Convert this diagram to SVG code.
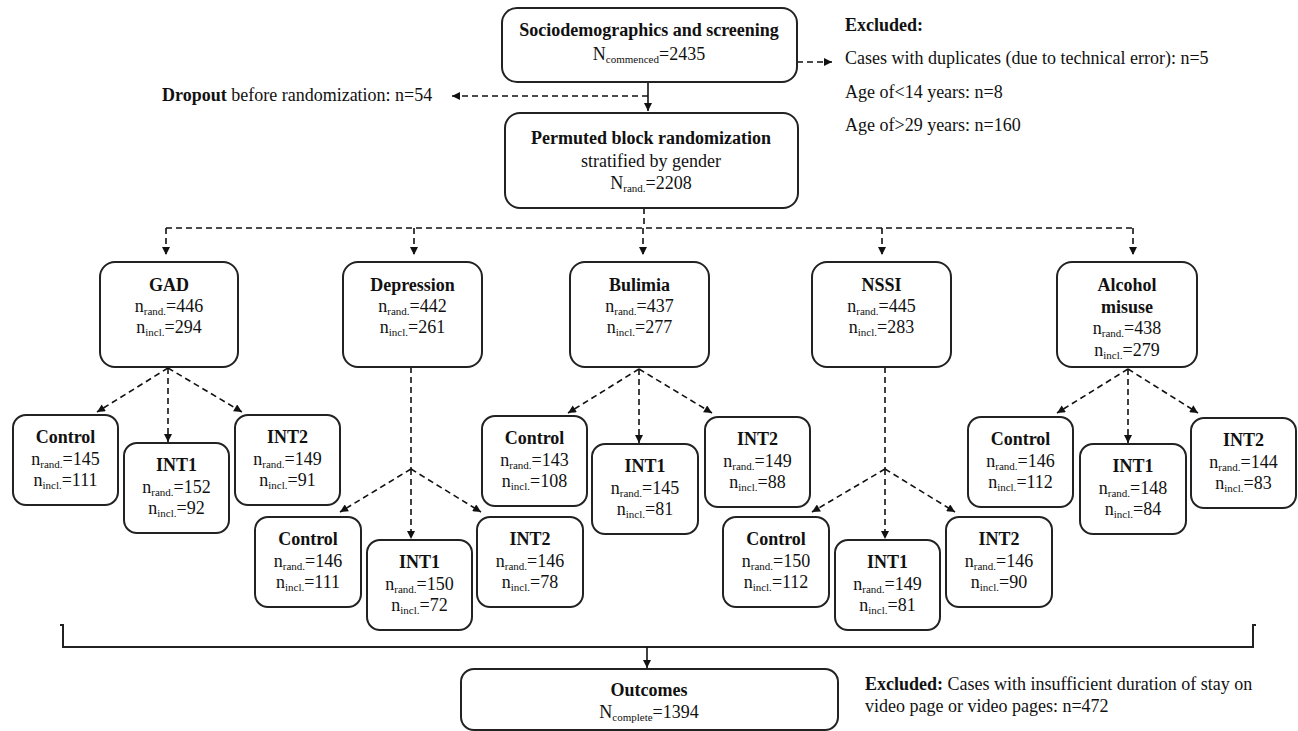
<svg xmlns="http://www.w3.org/2000/svg" width="1298" height="731" viewBox="0 0 1298 731">
<defs>
<style>
.box{fill:#fff;stroke:#222;stroke-width:2}
.t{font-family:"Liberation Serif","Times New Roman",serif;font-size:18px;fill:#111}
.c{text-anchor:middle}
.b{font-weight:bold}
.s{font-size:11px}
.d{fill:none;stroke:#111;stroke-width:1.6;stroke-dasharray:6 4}
.l{fill:none;stroke:#111;stroke-width:1.6}
.br{fill:none;stroke:#222;stroke-width:2}
</style>
<marker id="ah" viewBox="0 0 10 10" refX="10" refY="5" markerWidth="9" markerHeight="8" markerUnits="userSpaceOnUse" orient="auto"><path d="M0,0 L10,5 L0,10 z" fill="#111"/></marker>
</defs>
<rect width="1298" height="731" fill="#fff"/>

<g id="connectors">
<line class="l" x1="648" y1="82" x2="648" y2="111" marker-end="url(#ah)"/>
<line class="d" x1="648" y1="96" x2="452" y2="96" marker-end="url(#ah)"/>
<line class="d" x1="797" y1="62" x2="832" y2="62" marker-end="url(#ah)"/>
<line class="d" x1="644" y1="208" x2="644" y2="228"/>
<line class="d" x1="166" y1="228" x2="1133" y2="228"/>
<line class="d" x1="166" y1="228" x2="166" y2="255" marker-end="url(#ah)"/>
<line class="d" x1="414" y1="228" x2="414" y2="255" marker-end="url(#ah)"/>
<line class="d" x1="643" y1="228" x2="643" y2="255" marker-end="url(#ah)"/>
<line class="d" x1="882" y1="228" x2="882" y2="255" marker-end="url(#ah)"/>
<line class="d" x1="1133" y1="228" x2="1133" y2="255" marker-end="url(#ah)"/>
<!-- GAD -->
<line class="d" x1="168" y1="368" x2="97" y2="412" marker-end="url(#ah)"/>
<line class="d" x1="168" y1="368" x2="168" y2="442" marker-end="url(#ah)"/>
<line class="d" x1="168" y1="368" x2="242" y2="412" marker-end="url(#ah)"/>
<!-- Depression -->
<line class="d" x1="411" y1="367" x2="411" y2="469"/>
<line class="d" x1="411" y1="469" x2="340" y2="512" marker-end="url(#ah)"/>
<line class="d" x1="411" y1="469" x2="411" y2="539" marker-end="url(#ah)"/>
<line class="d" x1="411" y1="469" x2="481" y2="512" marker-end="url(#ah)"/>
<!-- Bulimia -->
<line class="d" x1="639" y1="369" x2="568" y2="413" marker-end="url(#ah)"/>
<line class="d" x1="639" y1="369" x2="639" y2="443" marker-end="url(#ah)"/>
<line class="d" x1="639" y1="369" x2="712" y2="413" marker-end="url(#ah)"/>
<!-- NSSI -->
<line class="d" x1="885" y1="367" x2="885" y2="469"/>
<line class="d" x1="885" y1="469" x2="812" y2="512" marker-end="url(#ah)"/>
<line class="d" x1="885" y1="469" x2="885" y2="539" marker-end="url(#ah)"/>
<line class="d" x1="885" y1="469" x2="955" y2="512" marker-end="url(#ah)"/>
<!-- Alcohol -->
<line class="d" x1="1128" y1="369" x2="1057" y2="413" marker-end="url(#ah)"/>
<line class="d" x1="1128" y1="369" x2="1128" y2="443" marker-end="url(#ah)"/>
<line class="d" x1="1128" y1="369" x2="1198" y2="413" marker-end="url(#ah)"/>
<!-- bracket -->
<path class="br" d="M60,625 L63,625 L63,647 L1253,647 L1253,625 L1256,625"/>
<line class="l" x1="647" y1="647" x2="647" y2="668" marker-end="url(#ah)"/>
</g>

<g id="screening">
<rect class="box" x="502" y="8" width="295" height="74" rx="15"/>
<text class="t c b" x="649" y="36">Sociodemographics and screening</text>
<text class="t c" x="649" y="60">N<tspan class="s" dy="3">commenced</tspan><tspan dy="-3">=2435</tspan></text>
</g>

<g id="excluded-top">
<text class="t b" x="845" y="31">Excluded:</text>
<text class="t" x="845" y="64">Cases with duplicates (due to technical error): n=5</text>
<text class="t" x="845" y="98">Age of&lt;14 years: n=8</text>
<text class="t" x="845" y="131">Age of&gt;29 years: n=160</text>
</g>

<g id="dropout">
<text class="t" x="162" y="101"><tspan class="b">Dropout</tspan> before randomization: n=54</text>
</g>

<g id="randomization">
<rect class="box" x="505" y="113" width="293" height="95" rx="15"/>
<text class="t c b" x="651" y="144">Permuted block randomization</text>
<text class="t c" x="651" y="167">stratified by gender</text>
<text class="t c" x="651" y="189">N<tspan class="s" dy="3">rand.</tspan><tspan dy="-3">=2208</tspan></text>
</g>

<g id="gad">
<rect class="box" x="100" y="262" width="138" height="105" rx="15"/>
<text class="t c b" x="169" y="291">GAD</text>
<text class="t c" x="169" y="312">n<tspan class="s" dy="3">rand.</tspan><tspan dy="-3">=446</tspan></text>
<text class="t c" x="169" y="333">n<tspan class="s" dy="3">incl.</tspan><tspan dy="-3">=294</tspan></text>
</g>
<g id="depression">
<rect class="box" x="343" y="262" width="139" height="105" rx="15"/>
<text class="t c b" x="412.5" y="291">Depression</text>
<text class="t c" x="412.5" y="312">n<tspan class="s" dy="3">rand.</tspan><tspan dy="-3">=442</tspan></text>
<text class="t c" x="412.5" y="333">n<tspan class="s" dy="3">incl.</tspan><tspan dy="-3">=261</tspan></text>
</g>
<g id="bulimia">
<rect class="box" x="570" y="262" width="139" height="105" rx="15"/>
<text class="t c b" x="639.5" y="291">Bulimia</text>
<text class="t c" x="639.5" y="312">n<tspan class="s" dy="3">rand.</tspan><tspan dy="-3">=437</tspan></text>
<text class="t c" x="639.5" y="333">n<tspan class="s" dy="3">incl.</tspan><tspan dy="-3">=277</tspan></text>
</g>
<g id="nssi">
<rect class="box" x="812" y="262" width="139" height="105" rx="15"/>
<text class="t c b" x="881.5" y="291">NSSI</text>
<text class="t c" x="881.5" y="312">n<tspan class="s" dy="3">rand.</tspan><tspan dy="-3">=445</tspan></text>
<text class="t c" x="881.5" y="333">n<tspan class="s" dy="3">incl.</tspan><tspan dy="-3">=283</tspan></text>
</g>
<g id="alcohol">
<rect class="box" x="1057" y="262" width="140" height="105" rx="15"/>
<text class="t c b" x="1127" y="291">Alcohol</text>
<text class="t c b" x="1127" y="313">misuse</text>
<text class="t c" x="1127" y="334">n<tspan class="s" dy="3">rand.</tspan><tspan dy="-3">=438</tspan></text>
<text class="t c" x="1127" y="356">n<tspan class="s" dy="3">incl.</tspan><tspan dy="-3">=279</tspan></text>
</g>

<g id="gad-control">
<rect class="box" x="13" y="415" width="105" height="90" rx="13"/>
<text class="t c b" x="65.5" y="443">Control</text>
<text class="t c" x="65.5" y="465">n<tspan class="s" dy="3">rand.</tspan><tspan dy="-3">=145</tspan></text>
<text class="t c" x="65.5" y="486">n<tspan class="s" dy="3">incl.</tspan><tspan dy="-3">=111</tspan></text>
</g>
<g id="gad-int1">
<rect class="box" x="124" y="443" width="105" height="90" rx="13"/>
<text class="t c b" x="176.5" y="471">INT1</text>
<text class="t c" x="176.5" y="493">n<tspan class="s" dy="3">rand.</tspan><tspan dy="-3">=152</tspan></text>
<text class="t c" x="176.5" y="514">n<tspan class="s" dy="3">incl.</tspan><tspan dy="-3">=92</tspan></text>
</g>
<g id="gad-int2">
<rect class="box" x="235" y="415" width="105" height="90" rx="13"/>
<text class="t c b" x="287.5" y="443">INT2</text>
<text class="t c" x="287.5" y="465">n<tspan class="s" dy="3">rand.</tspan><tspan dy="-3">=149</tspan></text>
<text class="t c" x="287.5" y="486">n<tspan class="s" dy="3">incl.</tspan><tspan dy="-3">=91</tspan></text>
</g>

<g id="dep-control">
<rect class="box" x="255" y="517" width="106" height="90" rx="13"/>
<text class="t c b" x="308" y="545">Control</text>
<text class="t c" x="308" y="567">n<tspan class="s" dy="3">rand.</tspan><tspan dy="-3">=146</tspan></text>
<text class="t c" x="308" y="588">n<tspan class="s" dy="3">incl.</tspan><tspan dy="-3">=111</tspan></text>
</g>
<g id="dep-int1">
<rect class="box" x="367" y="540" width="105" height="90" rx="13"/>
<text class="t c b" x="419.5" y="568">INT1</text>
<text class="t c" x="419.5" y="590">n<tspan class="s" dy="3">rand.</tspan><tspan dy="-3">=150</tspan></text>
<text class="t c" x="419.5" y="611">n<tspan class="s" dy="3">incl.</tspan><tspan dy="-3">=72</tspan></text>
</g>
<g id="dep-int2">
<rect class="box" x="477" y="517" width="106" height="90" rx="13"/>
<text class="t c b" x="530" y="545">INT2</text>
<text class="t c" x="530" y="567">n<tspan class="s" dy="3">rand.</tspan><tspan dy="-3">=146</tspan></text>
<text class="t c" x="530" y="588">n<tspan class="s" dy="3">incl.</tspan><tspan dy="-3">=78</tspan></text>
</g>

<g id="bul-control">
<rect class="box" x="482" y="416" width="105" height="90" rx="13"/>
<text class="t c b" x="534.5" y="444">Control</text>
<text class="t c" x="534.5" y="466">n<tspan class="s" dy="3">rand.</tspan><tspan dy="-3">=143</tspan></text>
<text class="t c" x="534.5" y="487">n<tspan class="s" dy="3">incl.</tspan><tspan dy="-3">=108</tspan></text>
</g>
<g id="bul-int1">
<rect class="box" x="592" y="444" width="106" height="90" rx="13"/>
<text class="t c b" x="645" y="472">INT1</text>
<text class="t c" x="645" y="494">n<tspan class="s" dy="3">rand.</tspan><tspan dy="-3">=145</tspan></text>
<text class="t c" x="645" y="515">n<tspan class="s" dy="3">incl.</tspan><tspan dy="-3">=81</tspan></text>
</g>
<g id="bul-int2">
<rect class="box" x="705" y="417" width="105" height="90" rx="13"/>
<text class="t c b" x="757.5" y="445">INT2</text>
<text class="t c" x="757.5" y="467">n<tspan class="s" dy="3">rand.</tspan><tspan dy="-3">=149</tspan></text>
<text class="t c" x="757.5" y="488">n<tspan class="s" dy="3">incl.</tspan><tspan dy="-3">=88</tspan></text>
</g>

<g id="nssi-control">
<rect class="box" x="723" y="517" width="106" height="90" rx="13"/>
<text class="t c b" x="776" y="545">Control</text>
<text class="t c" x="776" y="567">n<tspan class="s" dy="3">rand.</tspan><tspan dy="-3">=150</tspan></text>
<text class="t c" x="776" y="588">n<tspan class="s" dy="3">incl.</tspan><tspan dy="-3">=112</tspan></text>
</g>
<g id="nssi-int1">
<rect class="box" x="835" y="540" width="105" height="90" rx="13"/>
<text class="t c b" x="887.5" y="568">INT1</text>
<text class="t c" x="887.5" y="590">n<tspan class="s" dy="3">rand.</tspan><tspan dy="-3">=149</tspan></text>
<text class="t c" x="887.5" y="611">n<tspan class="s" dy="3">incl.</tspan><tspan dy="-3">=81</tspan></text>
</g>
<g id="nssi-int2">
<rect class="box" x="946" y="517" width="106" height="90" rx="13"/>
<text class="t c b" x="999" y="545">INT2</text>
<text class="t c" x="999" y="567">n<tspan class="s" dy="3">rand.</tspan><tspan dy="-3">=146</tspan></text>
<text class="t c" x="999" y="588">n<tspan class="s" dy="3">incl.</tspan><tspan dy="-3">=90</tspan></text>
</g>

<g id="alc-control">
<rect class="box" x="968" y="417" width="105" height="90" rx="13"/>
<text class="t c b" x="1020.5" y="445">Control</text>
<text class="t c" x="1020.5" y="467">n<tspan class="s" dy="3">rand.</tspan><tspan dy="-3">=146</tspan></text>
<text class="t c" x="1020.5" y="488">n<tspan class="s" dy="3">incl.</tspan><tspan dy="-3">=112</tspan></text>
</g>
<g id="alc-int1">
<rect class="box" x="1080" y="444" width="106" height="90" rx="13"/>
<text class="t c b" x="1133" y="472">INT1</text>
<text class="t c" x="1133" y="494">n<tspan class="s" dy="3">rand.</tspan><tspan dy="-3">=148</tspan></text>
<text class="t c" x="1133" y="515">n<tspan class="s" dy="3">incl.</tspan><tspan dy="-3">=84</tspan></text>
</g>
<g id="alc-int2">
<rect class="box" x="1191" y="418" width="105" height="90" rx="13"/>
<text class="t c b" x="1243.5" y="446">INT2</text>
<text class="t c" x="1243.5" y="468">n<tspan class="s" dy="3">rand.</tspan><tspan dy="-3">=144</tspan></text>
<text class="t c" x="1243.5" y="489">n<tspan class="s" dy="3">incl.</tspan><tspan dy="-3">=83</tspan></text>
</g>

<g id="outcomes">
<rect class="box" x="461" y="669" width="377" height="61" rx="13"/>
<text class="t c b" x="649" y="696">Outcomes</text>
<text class="t c" x="649" y="718">N<tspan class="s" dy="3">complete</tspan><tspan dy="-3">=1394</tspan></text>
</g>

<g id="excluded-bottom">
<text class="t" x="865" y="690"><tspan class="b">Excluded:</tspan> Cases with insufficient duration of stay on</text>
<text class="t" x="865" y="712">video page or video pages: n=472</text>
</g>
</svg>
